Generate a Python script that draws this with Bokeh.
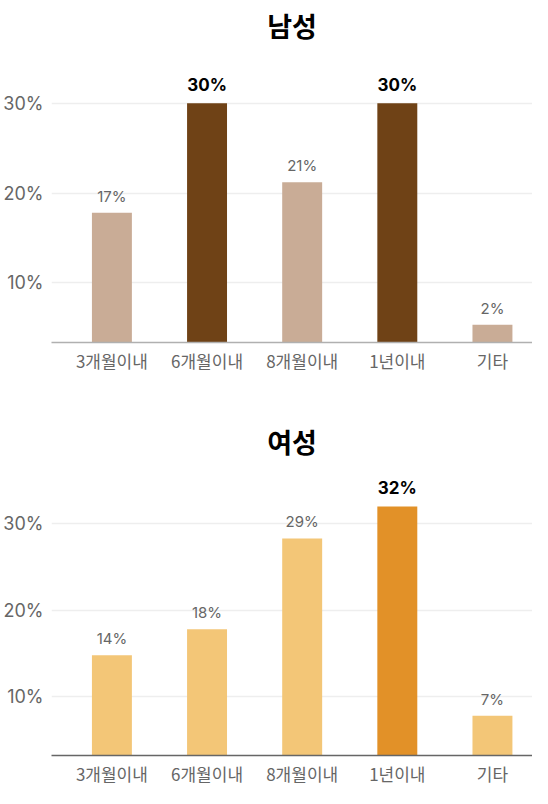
from bokeh.plotting import figure
from bokeh.layouts import column
from bokeh.models import ColumnDataSource, Range1d, FixedTicker, PrintfTickFormatter
from bokeh.core.properties import value
from bokeh.embed import file_html
from bokeh.resources import INLINE

categories = ["3개월이내", "6개월이내", "8개월이내", "1년이내", "기타"]

male_values = [17.8, 30.0, 21.2, 30.0, 5.3]
male_labels = ["17%", "30%", "21%", "30%", "2%"]
male_highlight = [False, True, False, True, False]

female_values = [14.8, 17.8, 28.3, 32.0, 7.8]
female_labels = ["14%", "18%", "29%", "32%", "7%"]
female_highlight = [False, False, False, True, False]

y_ticks = [10, 20, 30]

KR = "Noto Sans CJK KR"
NUM = "Inter"


def make_chart(title, vals, labels, highlight, light, dark, axis_color,
               height, border_top, border_bottom, y_start, y_end):
    xs = list(range(len(categories)))
    p = figure(x_range=Range1d(-0.635, 4.421),
               y_range=Range1d(y_start, y_end),
               width=532, height=height, title=title,
               output_backend="svg", toolbar_location=None,
               min_border_top=border_top, min_border_left=0,
               min_border_right=0, min_border_bottom=border_bottom)
    p.title.align = "center"
    p.title.vertical_align = "top"
    p.title.text_font = KR
    p.title.text_font_size = "27px"
    p.title.text_font_style = "bold"
    p.title.text_color = "#000000"
    p.title.standoff = 10

    colors = [dark if h else light for h in highlight]
    src = ColumnDataSource(dict(x=xs, val=vals, color=colors))
    p.vbar(x="x", top="val", bottom=0, width=0.42, fill_color="color",
           line_color=None, source=src)

    plain = ColumnDataSource(dict(
        x=[i for i, h in zip(xs, highlight) if not h],
        val=[v for v, h in zip(vals, highlight) if not h],
        lab=[l for l, h in zip(labels, highlight) if not h]))
    hot = ColumnDataSource(dict(
        x=[i for i, h in zip(xs, highlight) if h],
        val=[v for v, h in zip(vals, highlight) if h],
        lab=[l for l, h in zip(labels, highlight) if h]))
    p.text(x="x", y="val", text="lab", source=plain, y_offset=-7,
           text_align="center", text_baseline="bottom",
           text_font=value(NUM), text_font_size="15px", text_color="#666666")
    p.text(x="x", y="val", text="lab", source=hot, y_offset=-8,
           text_align="center", text_baseline="bottom",
           text_font=value(NUM), text_font_size="17px", text_font_style="bold",
           text_color="#000000")

    p.yaxis.ticker = FixedTicker(ticks=y_ticks)
    p.yaxis.formatter = PrintfTickFormatter(format="%d%%")
    p.yaxis.axis_line_color = None
    p.yaxis.major_tick_line_color = None
    p.yaxis.minor_tick_line_color = None
    p.yaxis.major_tick_out = 0
    p.yaxis.major_tick_in = 0
    p.yaxis.major_label_standoff = 8
    p.yaxis.major_label_text_font = NUM
    p.yaxis.major_label_text_font_size = "18px"
    p.yaxis.major_label_text_color = "#666666"

    p.xaxis.ticker = FixedTicker(ticks=xs)
    p.xaxis.major_label_overrides = {i: c for i, c in zip(xs, categories)}
    p.xaxis.axis_line_color = axis_color
    p.xaxis.axis_line_width = 1.5
    p.xaxis.major_tick_line_color = None
    p.xaxis.minor_tick_line_color = None
    p.xaxis.major_tick_out = 0
    p.xaxis.major_tick_in = 0
    p.xaxis.minor_tick_out = 0
    p.xaxis.axis_label_standoff = 0
    p.xaxis.major_label_standoff = 5
    p.xaxis.major_label_text_line_height = 0.8
    p.xaxis.major_label_text_font = KR
    p.xaxis.major_label_text_font_size = "17px"
    p.xaxis.major_label_text_color = "#666666"

    p.xgrid.grid_line_color = None
    p.ygrid.grid_line_color = "#eeeeee"
    p.ygrid.grid_line_width = 1.5
    p.outline_line_color = None
    return p


top = make_chart("남성", male_values, male_labels, male_highlight,
                 "#c9ac96", "#6f4216", "#b0b0b0",
                 416, 42, 74, 3.33, 35.78)
bottom = make_chart("여성", female_values, female_labels, female_highlight,
                    "#f3c677", "#e29128", "#666666",
                    372, 42, 30, 3.2, 36.5)

layout = column(top, bottom, spacing=0)
open("out.html", "w").write(file_html(layout, INLINE))
